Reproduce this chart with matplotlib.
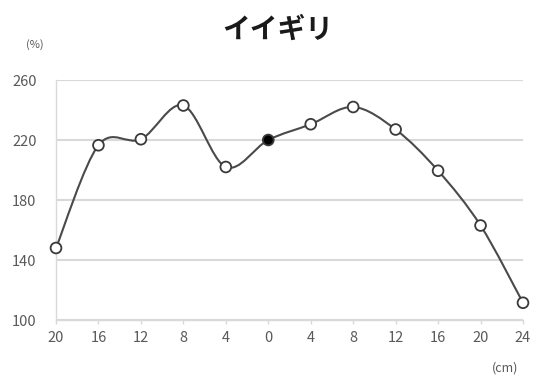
import numpy as np
import matplotlib
matplotlib.use("Agg")
import matplotlib.pyplot as plt
from matplotlib.path import Path
from matplotlib.patches import PathPatch

plt.rcParams['font.family'] = ['Noto Sans CJK JP', 'DejaVu Sans']

# distance labels along the stem (cm) and relative values (%)
x_labels = ["20", "16", "12", "8", "4", "0", "4", "8", "12", "16", "20", "24"]
values = [148, 216.5, 220.5, 243, 202, 220, 230.5, 242, 227, 199.5, 163, 111.5]
ref_index = 5  # the 0 cm reference point, drawn filled
y_ticks = [100, 140, 180, 220, 260]

fig = plt.figure(figsize=(5.37, 3.77), dpi=100)
ax = fig.add_axes([56 / 537, 1 - 320 / 377, 467 / 537, 240 / 377])

xs = np.arange(len(values))
ys = np.array(values, dtype=float)

# smoothed line through the points (Catmull-Rom as cubic Bezier segments)
verts = [(xs[0], ys[0])]
codes = [Path.MOVETO]
n = len(xs)
for i in range(n - 1):
    p0 = np.array([xs[max(i - 1, 0)], ys[max(i - 1, 0)]])
    p1 = np.array([xs[i], ys[i]])
    p2 = np.array([xs[i + 1], ys[i + 1]])
    p3 = np.array([xs[min(i + 2, n - 1)], ys[min(i + 2, n - 1)]])
    c1 = p1 + (p2 - p0) / 6.0
    c2 = p2 - (p3 - p1) / 6.0
    verts += [tuple(c1), tuple(c2), tuple(p2)]
    codes += [Path.CURVE4] * 3
ax.add_patch(PathPatch(Path(verts, codes), facecolor='none', edgecolor='#4a4a4a',
                       lw=1.5, zorder=3, clip_on=False))

face = ['white'] * n
face[ref_index] = 'black'
ax.scatter(xs, ys, s=60, facecolors=face, edgecolors='#3a3a3a', linewidths=1.3,
           zorder=4, clip_on=False)

ax.set_xlim(0, n - 1)
ax.set_ylim(100, 260)
ax.set_yticks(y_ticks)
ax.set_yticklabels([str(v) for v in y_ticks])
ax.set_xticks(xs)
ax.set_xticklabels(x_labels)
ax.grid(axis='y', color='#d9d9d9', lw=1.5, zorder=0)
ax.set_axisbelow(True)

for side in ['top', 'right']:
    ax.spines[side].set_visible(False)
ax.spines['left'].set_color('#d9d9d9')
ax.spines['bottom'].set_color('#d9d9d9')
ax.spines['left'].set_linewidth(1.0)
ax.spines['bottom'].set_linewidth(1.0)

ax.tick_params(axis='y', length=0, pad=14, labelsize=10.5, labelcolor='#595959')
ax.tick_params(axis='x', length=3, width=1, color='#d9d9d9', pad=5,
               labelsize=10.5, labelcolor='#595959')

fig.text(278 / 537, 1 - 30 / 377, "イイギリ", ha='center', va='center',
         fontsize=20, fontweight='bold', color='#1a1a1a')
fig.text(35 / 537, 1 - 45 / 377, "(%)", ha='center', va='center',
         fontsize=8, color='#595959')
fig.text(505 / 537, 1 - 368 / 377, "(cm)", ha='center', va='center',
         fontsize=9, color='#595959')

fig.savefig("out.png", dpi=100)
